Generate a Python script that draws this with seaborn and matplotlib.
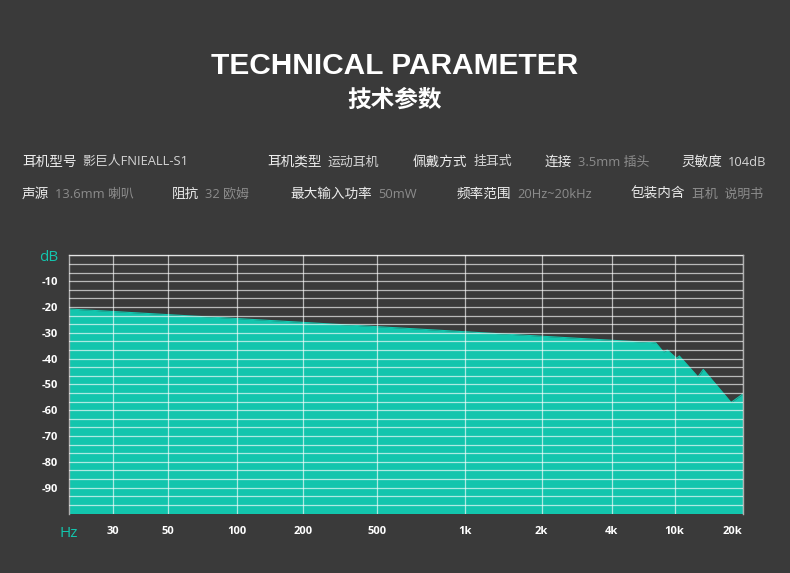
import numpy as np
import matplotlib
matplotlib.use('Agg')
import matplotlib.pyplot as plt
import seaborn as sns

# frequency response
freq_hz = [20, 100, 1000, 7600, 8500, 9000, 10200, 10500, 12700, 13400, 17800, 20000]
level_db = [-20.8, -24.5, -29.6, -33.9, -37.4, -36.7, -39.9, -39.0, -47.1, -44.2, -57.0, -53.8]

x_ticks = [20, 30, 50, 100, 200, 500, 1000, 2000, 4000, 10000, 20000]
x_labels = ['Hz', '30', '50', '100', '200', '500', '1k', '2k', '4k', '10k', '20k']
y_ticks = [0, -10, -20, -30, -40, -50, -60, -70, -80, -90]
y_labels = ['dB', '-10', '-20', '-30', '-40', '-50', '-60', '-70', '-80', '-90']

# spec table: (label, value, value is bright?)
row1 = [('耳机型号', '影巨人FNIEALL-S1', True), ('耳机类型', '运动耳机', True),
        ('佩戴方式', '挂耳式', True), ('连接', '3.5mm 插头', False),
        ('灵敏度', '104dB', True)]
row2 = [('声源', '13.6mm 喇叭', False), ('阻抗', '32 欧姆', False),
        ('最大输入功率', '50mW', False), ('频率范围', '20Hz~20kHz', False),
        ('包装内含', '耳机  说明书', False)]
row1_x = [22, 267, 413, 545, 681]
row2_x = [22, 172, 290, 457, 631]

BG = '#3a3a3a'
TEAL = '#13c5ad'

sns.set_theme(style='dark')
plt.rcParams['font.family'] = ['Noto Sans CJK SC', 'DejaVu Sans']

# the chart's frequency axis is hand-spaced, not a pure log axis
tick_pos = np.array([0, 44, 99, 168, 234, 308, 396, 473, 543, 606, 674], dtype=float)
log_ticks = np.log10(x_ticks)


def fwd(f):
    f = np.clip(np.asarray(f, dtype=float), 1e-3, None)
    return np.interp(np.log10(f), log_ticks, tick_pos, left=-1e3, right=1e3)


def inv(p):
    return 10 ** np.interp(np.asarray(p, dtype=float), tick_pos, log_ticks)


W, H = 790, 573
fig = plt.figure(figsize=(W / 100, H / 100), dpi=100, facecolor=BG)
ax = fig.add_axes([69 / W, 1 - 513.5 / H, (742.5 - 69) / W, (513.5 - 255.3) / H])
ax.set_facecolor(BG)
ax.set_xscale('function', functions=(fwd, inv))

ax.fill_between(freq_hz, level_db, -100, color=TEAL, linewidth=0, zorder=1)
sns.lineplot(x=freq_hz, y=level_db, ax=ax, color=TEAL, linewidth=0.8, sort=False, zorder=2)

ax.set_xlim(20, 20000)
ax.set_ylim(-100, 0)

# grid lines drawn above the fill
for f in x_ticks[1:]:
    ax.axvline(f, color='white', alpha=0.65, linewidth=0.9, zorder=3)
for d in np.linspace(-100, 0, 31)[1:]:
    ax.axhline(d, color='white', alpha=0.65, linewidth=0.9, zorder=3)
ax.grid(False)

ax.set_xticks(x_ticks)
ax.set_xticklabels(x_labels)
ax.set_yticks(y_ticks)
ax.set_yticklabels(y_labels)
ax.xaxis.set_minor_locator(plt.NullLocator())
ax.tick_params(axis='both', length=0, colors='white', labelsize=8)
ax.tick_params(axis='x', pad=9)
ax.tick_params(axis='y', pad=8)
for lab in ax.get_xticklabels() + ax.get_yticklabels():
    lab.set_family(['Open Sans', 'DejaVu Sans'])
    lab.set_fontweight('bold')
for lab in (ax.get_xticklabels()[0], ax.get_yticklabels()[0]):
    lab.set_color(TEAL)
    lab.set_fontweight('normal')
    lab.set_fontsize(11)
ax.get_xticklabels()[-1].set_horizontalalignment('right')

for side in ['left', 'right', 'top']:
    ax.spines[side].set_color('#b0b0b0')
    ax.spines[side].set_linewidth(1)
ax.spines['bottom'].set_visible(False)

# title
fig.text(0.5, 1 - 66 / H, 'TECHNICAL PARAMETER', ha='center', va='center', color='white',
         fontsize=21.5, fontweight='bold', family=['Liberation Sans', 'DejaVu Sans'])
fig.text(0.5, 1 - 100 / H, '技术参数', ha='center', va='center', color='white',
         fontsize=17, fontweight='bold')

# spec rows
for items, xs, y in [(row1, row1_x, 162), (row2, row2_x, 194)]:
    for (lab, val, bright), x in zip(items, xs):
        t = fig.text(x / W, 1 - y / H, lab, ha='left', va='center', color='#ececec', fontsize=9.8)
        fig.canvas.draw()
        bb = t.get_window_extent()
        fig.text((bb.x1 + 6) / W, 1 - y / H, val, ha='left', va='center',
                 color='#d4d4d4' if bright else '#8c8c8c', fontsize=9.3,
                 family=['Open Sans', 'Noto Sans CJK SC'])

fig.savefig('out.png', dpi=100, facecolor=BG)
